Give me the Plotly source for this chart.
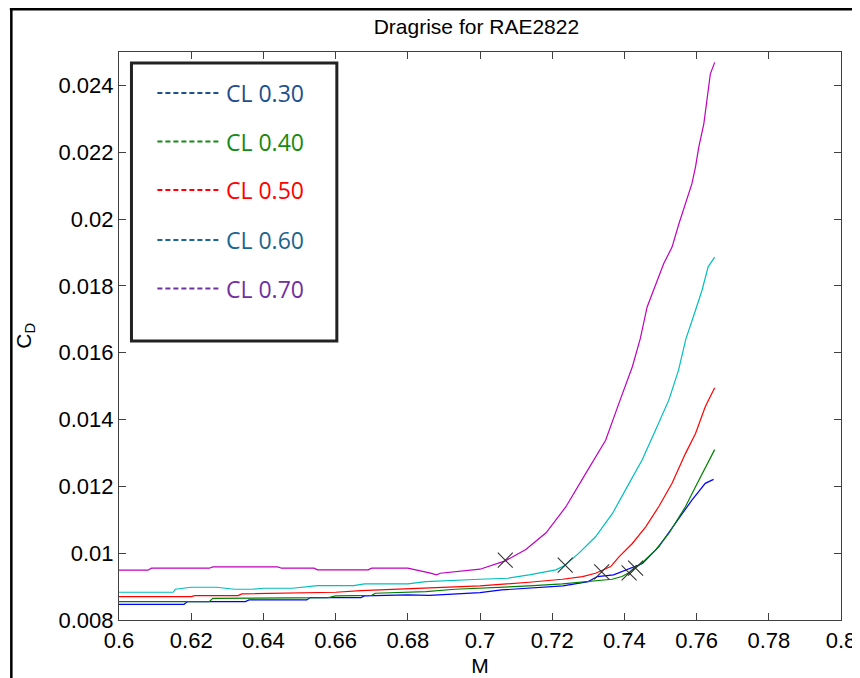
import plotly.graph_objects as go

# ---------------- data ----------------
m_030 = [0.600, 0.618, 0.619, 0.635, 0.636, 0.652, 0.653, 0.667, 0.668, 0.680, 0.686, 0.693,
         0.700, 0.706, 0.714, 0.723, 0.730, 0.7325, 0.737, 0.7405, 0.745, 0.7495, 0.754,
         0.7587, 0.7624, 0.7647]
cd_030 = [0.00847, 0.00847, 0.00855, 0.00855, 0.00860, 0.00860, 0.00867, 0.00867, 0.00872,
          0.00875, 0.00874, 0.00878, 0.00882, 0.00890, 0.00896, 0.00902, 0.00915, 0.00930,
          0.00935, 0.00950, 0.00969, 0.01019, 0.01089, 0.01159, 0.01209, 0.01221]

m_040 = [0.600, 0.625, 0.626, 0.658, 0.660, 0.670, 0.671, 0.685, 0.693, 0.700, 0.7136, 0.7228,
         0.7348, 0.7366, 0.7393, 0.741, 0.745, 0.7486, 0.7523, 0.7569, 0.7597, 0.7624, 0.765]
cd_040 = [0.00855, 0.00855, 0.00865, 0.00867, 0.00872, 0.00874, 0.00880, 0.00885, 0.00892,
          0.00895, 0.00902, 0.00908, 0.00920, 0.00922, 0.00930, 0.00940, 0.00972, 0.01009,
          0.01059, 0.01139, 0.01199, 0.01258, 0.01310]

m_050 = [0.600, 0.620, 0.621, 0.633, 0.634, 0.650, 0.660, 0.667, 0.678, 0.686, 0.700, 0.7136,
         0.7228, 0.7284, 0.732, 0.7362, 0.7385, 0.7422, 0.7459, 0.7495, 0.7532, 0.7569,
         0.7597, 0.7624, 0.765]
cd_050 = [0.00870, 0.00870, 0.00873, 0.00873, 0.00878, 0.00880, 0.00883, 0.00888, 0.00892,
          0.00895, 0.00902, 0.00913, 0.00922, 0.00930, 0.00940, 0.00960, 0.00989, 0.01029,
          0.01079, 0.01139, 0.01209, 0.01298, 0.01358, 0.01438, 0.01495]

m_060 = [0.600, 0.615, 0.6156, 0.620, 0.627, 0.632, 0.637, 0.640, 0.648, 0.652, 0.655, 0.665,
         0.668, 0.680, 0.685, 0.700, 0.7077, 0.7136, 0.721, 0.7233, 0.7274, 0.732, 0.7367,
         0.7413, 0.7449, 0.7486, 0.7523, 0.755, 0.757, 0.7597, 0.7615, 0.7632, 0.765]
cd_060 = [0.00883, 0.00883, 0.00892, 0.00898, 0.00898, 0.00892, 0.00892, 0.00895, 0.00895,
          0.00900, 0.00903, 0.00903, 0.00908, 0.00908, 0.00915, 0.00922, 0.00925, 0.00935,
          0.00950, 0.00962, 0.01000, 0.01049, 0.01119, 0.01209, 0.01279, 0.01368, 0.01458,
          0.01548, 0.01640, 0.01727, 0.01787, 0.01857, 0.01886]

m_070 = [0.600, 0.608, 0.609, 0.625, 0.626, 0.644, 0.645, 0.654, 0.655, 0.669, 0.670, 0.680,
         0.686, 0.688, 0.689, 0.700, 0.707, 0.7127, 0.7183, 0.7238, 0.7293, 0.7348, 0.7385,
         0.7422, 0.7444, 0.7463, 0.7509, 0.7532, 0.7551, 0.7587, 0.7597, 0.7606, 0.762,
         0.7629, 0.7638, 0.765]
cd_070 = [0.00949, 0.00949, 0.00955, 0.00955, 0.00959, 0.00959, 0.00955, 0.00955, 0.00950,
          0.00950, 0.00955, 0.00955, 0.00941, 0.00935, 0.00940, 0.00952, 0.00977, 0.01011,
          0.01061, 0.01139, 0.01239, 0.01338, 0.01449, 0.01558, 0.01642, 0.01737, 0.01867,
          0.01916, 0.01986, 0.02106, 0.02156, 0.02215, 0.02285, 0.02364, 0.02434, 0.02469]

# drag-rise points (x markers)
rise_m = [0.7070, 0.7236, 0.7337, 0.7413, 0.7431]
rise_cd = [0.00979, 0.00964, 0.00944, 0.00941, 0.00955]

legend_labels = ["CL 0.30", "CL 0.40", "CL 0.50", "CL 0.60", "CL 0.70"]

x_ticks = [0.6, 0.62, 0.64, 0.66, 0.68, 0.7, 0.72, 0.74, 0.76, 0.78, 0.8]
x_ticktext = ["0.6", "0.62", "0.64", "0.66", "0.68", "0.7", "0.72", "0.74", "0.76", "0.78", "0.8"]
y_ticks = [0.008, 0.010, 0.012, 0.014, 0.016, 0.018, 0.020, 0.022, 0.024]
y_ticktext = ["0.008", "0.01", "0.012", "0.014", "0.016", "0.018", "0.02", "0.022", "0.024"]

# ---------------- styling ----------------
OFF = 8                      # page body margin (figure starts at 8,8 on screen)
W, H = 860, 678
# plot area in screen pixels
SX0, SX1, SY0, SY1 = 118.5, 842.7, 52, 620
ML, MR = SX0 - OFF, W - (SX1 - OFF)
MT, MB = SY0 - OFF, H - (SY1 - OFF)
PW, PH = W - ML - MR, H - MT - MB

def px(sx):
    return (sx - OFF - ML) / PW

def py(sy):
    return (H - MB - (sy - OFF)) / PH

FONT = "Liberation Sans, Arial"
line_colors = ["#0000FF", "#008000", "#FF0000", "#00BFBF", "#BF00BF"]
legend_colors = ["#1F4E8C", "#158A15", "#FF0000", "#1A6690", "#7030A0"]

fig = go.Figure()
for xs, ys, c in zip([m_030, m_040, m_050, m_060, m_070],
                     [cd_030, cd_040, cd_050, cd_060, cd_070], line_colors):
    fig.add_trace(go.Scatter(x=xs, y=ys, mode="lines", line=dict(color=c, width=1.2),
                             showlegend=False, hoverinfo="skip"))

fig.add_trace(go.Scatter(x=rise_m, y=rise_cd, mode="markers", showlegend=False,
                         hoverinfo="skip",
                         marker=dict(symbol="x-thin", size=15,
                                     line=dict(color="#333333", width=1.1))))

axis_common = dict(showgrid=False, zeroline=False, showline=True, linecolor="#404040",
                   linewidth=1.2, mirror="ticks", ticks="inside", ticklen=7,
                   tickcolor="#404040", tickwidth=1.2,
                   tickfont=dict(family=FONT, size=22, color="black"))

fig.update_xaxes(range=[0.6, 0.8], tickvals=x_ticks, ticktext=x_ticktext,
                 title=dict(text="M", font=dict(family=FONT, size=21, color="black"),
                            standoff=6),
                 **axis_common)
fig.update_yaxes(range=[0.008, 0.025], tickvals=y_ticks, ticktext=y_ticktext,
                 **axis_common)

shapes = []
# outer frame (top and left edges visible)
shapes.append(dict(type="line", xref="paper", yref="paper", x0=px(9), x1=px(875),
                   y0=py(9), y1=py(9), line=dict(color="black", width=3)))
shapes.append(dict(type="line", xref="paper", yref="paper", x0=px(10.5), x1=px(10.5),
                   y0=py(8), y1=py(700), line=dict(color="black", width=2.5)))
# legend box
shapes.append(dict(type="rect", xref="paper", yref="paper", x0=px(131), x1=px(337),
                   y0=py(63), y1=py(341), line=dict(color="#222222", width=3),
                   fillcolor="white", layer="above"))

annotations = []
# y axis title
annotations.append(dict(xref="paper", yref="paper", x=px(24), y=py(336),
                        text="C<sub>D</sub>", textangle=-90, showarrow=False,
                        xanchor="center", yanchor="middle",
                        font=dict(family=FONT, size=21, color="black")))
row_y = [93, 141.5, 190, 240, 288.5]
for lab, col, yy in zip(legend_labels, legend_colors, row_y):
    shapes.append(dict(type="line", xref="paper", yref="paper", x0=px(157), x1=px(220),
                       y0=py(yy), y1=py(yy), layer="above",
                       line=dict(color=col, width=2, dash="5px,3px")))
    annotations.append(dict(xref="paper", yref="paper", x=px(224), y=py(yy), text=lab,
                            showarrow=False, xanchor="left", yanchor="middle",
                            font=dict(family="Open Sans", size=23, color=col)))

fig.update_layout(
    width=W, height=H,
    margin=dict(l=ML, r=MR, t=MT, b=MB),
    paper_bgcolor="white", plot_bgcolor="white",
    hovermode=False,
    title=dict(text="Dragrise for RAE2822", x=px(477), xref="paper", xanchor="center",
               y=1 - (27 - OFF) / H, yref="container", yanchor="middle",
               font=dict(family=FONT, size=21, color="black")),
    shapes=shapes, annotations=annotations,
)

fig.write_html("out.html", config={"displayModeBar": False},
               post_script="document.documentElement.style.overflow='hidden';")
